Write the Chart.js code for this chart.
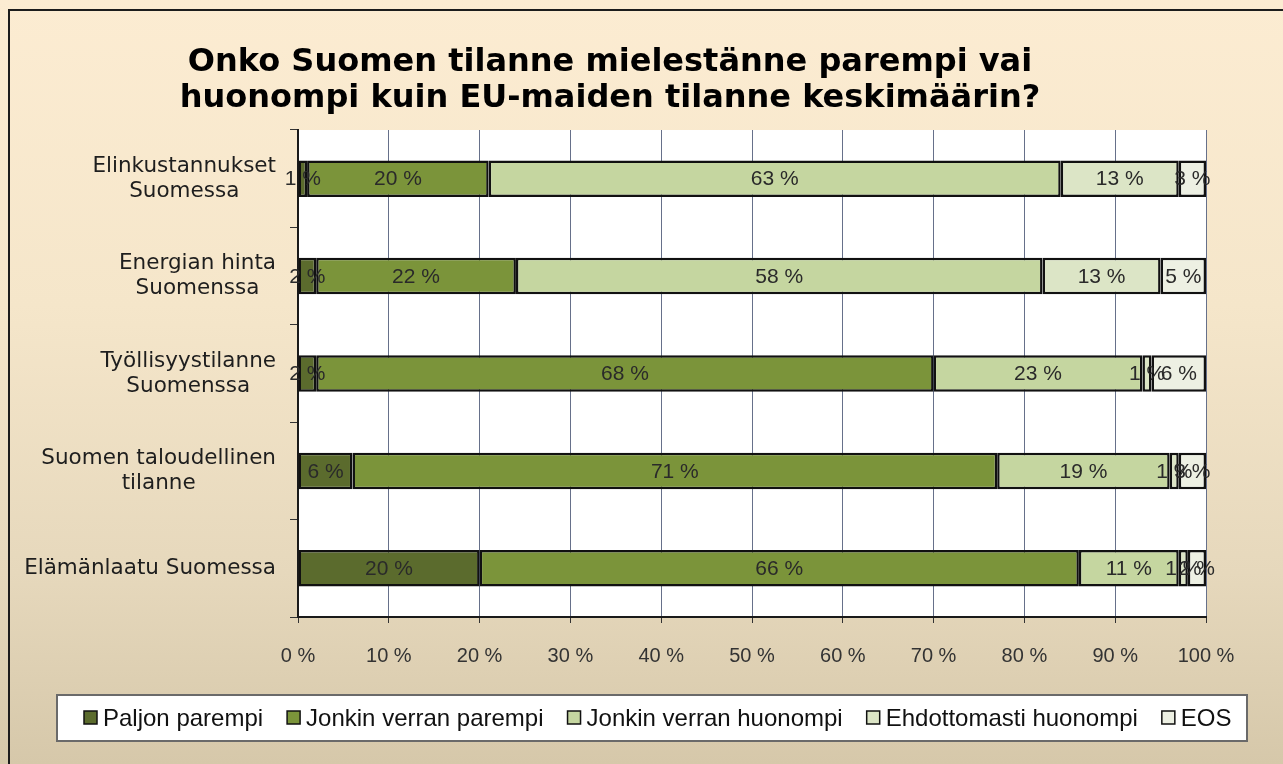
<!DOCTYPE html>
<html><head><meta charset="utf-8">
<script src="https://cdn.jsdelivr.net/npm/chart.js@4.4.1/dist/chart.umd.min.js"></script>
<style>
html,body{margin:0;padding:0;width:1283px;height:764px;overflow:hidden;}
body{background:linear-gradient(180deg,#FCECD2 0%,#F5E6CA 40%,#E6D8BC 75%,#D6C8AA 100%);position:relative;}
#frame{position:absolute;left:8px;top:9px;width:1400px;height:900px;border:2px solid #1c1c1c;box-sizing:border-box;}
canvas{position:absolute;left:0;top:0;}
</style></head><body>
<div id="frame"></div>
<canvas id="c" width="1283" height="764"></canvas>
<script>
const titleLines = ['Onko Suomen tilanne mielestänne parempi vai', 'huonompi kuin EU-maiden tilanne keskimäärin?'];
const categories = [
  ['Elinkustannukset', 'Suomessa'],
  ['Energian hinta', 'Suomenssa'],
  ['Työllisyystilanne', 'Suomenssa'],
  ['Suomen taloudellinen', 'tilanne'],
  ['Elämänlaatu Suomessa']
];
const seriesNames = ['Paljon parempi', 'Jonkin verran parempi', 'Jonkin verran huonompi', 'Ehdottomasti huonompi', 'EOS'];
const paljonParempi        = [1, 2, 2, 6, 20];
const jonkinVerranParempi  = [20, 22, 68, 71, 66];
const jonkinVerranHuonompi = [63, 58, 23, 19, 11];
const ehdottomastiHuonompi = [13, 13, 1, 1, 1];
const eos                  = [3, 5, 6, 3, 2];
const xTickValues = [0, 10, 20, 30, 40, 50, 60, 70, 80, 90, 100];

const seriesValues = [paljonParempi, jonkinVerranParempi, jonkinVerranHuonompi, ehdottomastiHuonompi, eos];
const seriesColors = ['#5B6B2D', '#7B943A', '#C5D6A0', '#DCE5C6', '#EDF0E3'];

const decorPlugin = {
  id: 'decor',
  beforeDraw(chart) {
    const {ctx, chartArea: a} = chart;
    ctx.save();
    ctx.fillStyle = '#ffffff';
    ctx.fillRect(a.left, a.top, a.right - a.left, a.bottom - a.top);
    ctx.restore();
  },
  afterDatasetsDraw(chart) {
    const ctx = chart.ctx;
    ctx.save();
    ctx.font = '21px "Liberation Sans", Arial, sans-serif';
    ctx.fillStyle = '#2a2a2a';
    ctx.textAlign = 'center';
    ctx.textBaseline = 'middle';
    chart.data.datasets.forEach((ds, di) => {
      const meta = chart.getDatasetMeta(di);
      meta.data.forEach((el, i) => {
        const v = ds.data[i];
        if (!v) return;
        ctx.fillText(v + ' %', (el.x + el.base) / 2, el.y + 1);
      });
    });
    ctx.restore();
  },
  afterDraw(chart) {
    const ctx = chart.ctx;
    const yScale = chart.scales.y;
    ctx.save();
    // title
    ctx.font = 'bold 32px "DejaVu Sans", Verdana, sans-serif';
    ctx.fillStyle = '#000';
    ctx.textAlign = 'center';
    ctx.textBaseline = 'middle';
    titleLines.forEach((t, i) => ctx.fillText(t, 610, 63 + i * 36));
    // category labels
    ctx.font = '21.5px "DejaVu Sans", Verdana, sans-serif';
    ctx.fillStyle = '#1e1e1e';
    const rightEdge = yScale.left - 14;
    categories.forEach((lines, i) => {
      const w = Math.max(...lines.map(l => ctx.measureText(l).width));
      const cx = rightEdge - w / 2;
      const cy = yScale.getPixelForValue(i);
      const lh = 25;
      lines.forEach((l, j) => {
        ctx.fillText(l, cx, cy + (j - (lines.length - 1) / 2) * lh);
      });
    });
    // legend
    const bx = 57, by = 695, bw = 1190, bh = 46;
    ctx.fillStyle = '#ffffff';
    ctx.fillRect(bx, by, bw, bh);
    ctx.strokeStyle = '#6a6a6a';
    ctx.lineWidth = 2;
    ctx.strokeRect(bx, by, bw, bh);
    ctx.font = '24px "Liberation Sans", Arial, sans-serif';
    ctx.textAlign = 'left';
    let x = 84;
    const cy = by + bh / 2;
    chart.data.datasets.forEach((ds) => {
      ctx.fillStyle = ds.backgroundColor;
      ctx.fillRect(x, cy - 7, 13, 13);
      ctx.strokeStyle = '#111';
      ctx.lineWidth = 1.5;
      ctx.strokeRect(x, cy - 7, 13, 13);
      ctx.fillStyle = '#111';
      ctx.fillText(ds.label, x + 19, cy + 1);
      x += 19 + ctx.measureText(ds.label).width + 24;
    });
    ctx.restore();
  }
};

new Chart(document.getElementById('c'), {
  type: 'bar',
  data: {
    labels: categories.map(c => c.join(' ')),
    datasets: seriesNames.map((name, k) => ({
      label: name,
      data: seriesValues[k],
      backgroundColor: seriesColors[k],
      borderColor: '#111111',
      borderWidth: 2.5,
      borderSkipped: false,
      barPercentage: 0.375,
      categoryPercentage: 1
    }))
  },
  options: {
    indexAxis: 'y',
    responsive: false,
    animation: false,
    devicePixelRatio: 1,
    layout: {padding: {top: 130, left: 290, right: 77, bottom: 75}},
    plugins: {legend: {display: false}, title: {display: false}, tooltip: {enabled: false}},
    scales: {
      x: {
        stacked: true, min: 0, max: 100,
        afterBuildTicks(scale) { scale.ticks = xTickValues.map(v => ({value: v})); },
        ticks: {
          callback: v => v + ' %',
          font: {family: '"Liberation Sans", Arial, sans-serif', size: 20},
          color: '#333333', padding: 21, maxRotation: 0, autoSkip: false
        },
        grid: {color: '#66708a', lineWidth: 1, tickLength: 6, tickColor: '#333333'},
        border: {color: '#1a1a1a', width: 2}
      },
      y: {
        stacked: true,
        ticks: {display: false},
        grid: {drawOnChartArea: false, tickLength: 8, color: '#333333', offset: true},
        border: {color: '#1a1a1a', width: 2}
      }
    }
  },
  plugins: [decorPlugin]
});
</script>
</body></html>
